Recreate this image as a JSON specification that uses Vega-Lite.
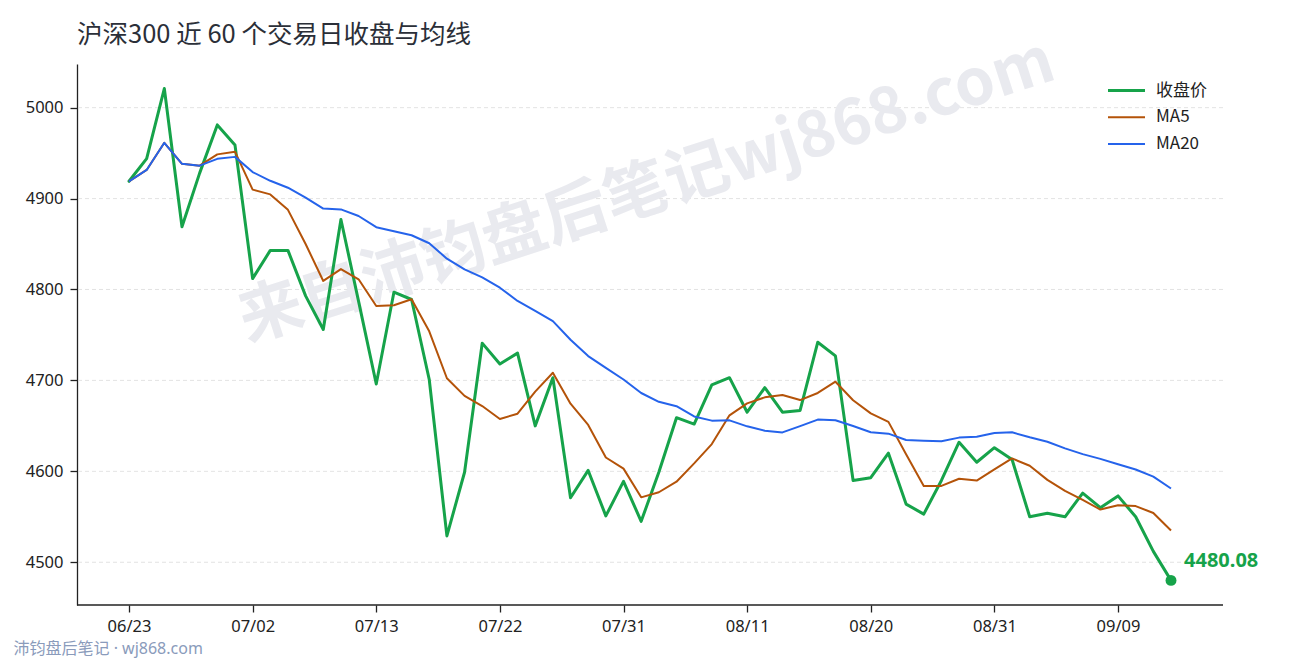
{
  "$schema": "https://vega.github.io/schema/vega-lite/v6.json",
  "width": 1146,
  "height": 541,
  "autosize": {"type": "none"},
  "padding": {"left": 77, "top": 64, "right": 67, "bottom": 55},
  "background": "white",
  "config": {"font": "Noto Sans, Noto Sans CJK SC", "view": {"stroke": null}},
  "title": {
    "text": "沪深300 近 60 个交易日收盘与均线",
    "anchor": "start",
    "frame": "group",
    "font": "Noto Sans CJK SC",
    "fontSize": 25.5,
    "fontWeight": "normal",
    "color": "#2b2f38",
    "offset": -19
  },
  "layer": [
    {
      "data": {"values": [{"edge": "grid"}]},
      "layer": [
        {"mark": {"type": "rule", "color": "#dcdcdc", "strokeWidth": 0.8, "strokeDash": [4, 3]}, "encoding": {"y": {"datum": 4500, "type": "quantitative"}}},
        {"mark": {"type": "rule", "color": "#dcdcdc", "strokeWidth": 0.8, "strokeDash": [4, 3]}, "encoding": {"y": {"datum": 4600, "type": "quantitative"}}},
        {"mark": {"type": "rule", "color": "#dcdcdc", "strokeWidth": 0.8, "strokeDash": [4, 3]}, "encoding": {"y": {"datum": 4700, "type": "quantitative"}}},
        {"mark": {"type": "rule", "color": "#dcdcdc", "strokeWidth": 0.8, "strokeDash": [4, 3]}, "encoding": {"y": {"datum": 4800, "type": "quantitative"}}},
        {"mark": {"type": "rule", "color": "#dcdcdc", "strokeWidth": 0.8, "strokeDash": [4, 3]}, "encoding": {"y": {"datum": 4900, "type": "quantitative"}}},
        {"mark": {"type": "rule", "color": "#dcdcdc", "strokeWidth": 0.8, "strokeDash": [4, 3]}, "encoding": {"y": {"datum": 5000, "type": "quantitative"}}}
      ]
    },
    {
      "data": {
        "values": [
          {"date": "06/23", "close": 4919, "ma5": 4919, "ma20": 4919},
          {"date": "06/24", "close": 4944, "ma5": 4931.5, "ma20": 4931.5},
          {"date": "06/25", "close": 5021, "ma5": 4961.33, "ma20": 4961.33},
          {"date": "06/26", "close": 4869, "ma5": 4938.25, "ma20": 4938.25},
          {"date": "06/29", "close": 4928, "ma5": 4936.2, "ma20": 4936.2},
          {"date": "06/30", "close": 4981, "ma5": 4948.6, "ma20": 4943.67},
          {"date": "07/01", "close": 4959, "ma5": 4951.6, "ma20": 4945.86},
          {"date": "07/02", "close": 4812, "ma5": 4909.8, "ma20": 4929.13},
          {"date": "07/03", "close": 4843, "ma5": 4904.6, "ma20": 4919.56},
          {"date": "07/06", "close": 4843, "ma5": 4887.6, "ma20": 4911.9},
          {"date": "07/07", "close": 4793, "ma5": 4850, "ma20": 4901.09},
          {"date": "07/08", "close": 4756, "ma5": 4809.4, "ma20": 4889},
          {"date": "07/09", "close": 4877, "ma5": 4822.4, "ma20": 4888.08},
          {"date": "07/10", "close": 4787, "ma5": 4811.2, "ma20": 4880.86},
          {"date": "07/13", "close": 4696, "ma5": 4781.8, "ma20": 4868.53},
          {"date": "07/14", "close": 4797, "ma5": 4782.6, "ma20": 4864.06},
          {"date": "07/15", "close": 4789, "ma5": 4789.2, "ma20": 4859.65},
          {"date": "07/16", "close": 4701, "ma5": 4754, "ma20": 4850.83},
          {"date": "07/17", "close": 4529, "ma5": 4702.4, "ma20": 4833.89},
          {"date": "07/20", "close": 4599, "ma5": 4683, "ma20": 4822.15},
          {"date": "07/21", "close": 4741, "ma5": 4671.8, "ma20": 4813.25},
          {"date": "07/22", "close": 4718, "ma5": 4657.6, "ma20": 4801.95},
          {"date": "07/23", "close": 4730, "ma5": 4663.4, "ma20": 4787.4},
          {"date": "07/24", "close": 4650, "ma5": 4687.6, "ma20": 4776.45},
          {"date": "07/27", "close": 4703, "ma5": 4708.4, "ma20": 4765.2},
          {"date": "07/28", "close": 4571, "ma5": 4674.4, "ma20": 4744.7},
          {"date": "07/29", "close": 4601, "ma5": 4651, "ma20": 4726.8},
          {"date": "07/30", "close": 4551, "ma5": 4615.2, "ma20": 4713.75},
          {"date": "07/31", "close": 4589, "ma5": 4603, "ma20": 4701.05},
          {"date": "08/03", "close": 4545, "ma5": 4571.4, "ma20": 4686.15},
          {"date": "08/04", "close": 4599, "ma5": 4577, "ma20": 4676.45},
          {"date": "08/05", "close": 4659, "ma5": 4588.6, "ma20": 4671.6},
          {"date": "08/06", "close": 4652, "ma5": 4608.8, "ma20": 4660.35},
          {"date": "08/07", "close": 4695, "ma5": 4630, "ma20": 4655.75},
          {"date": "08/10", "close": 4703, "ma5": 4661.6, "ma20": 4656.1},
          {"date": "08/11", "close": 4665, "ma5": 4674.8, "ma20": 4649.5},
          {"date": "08/12", "close": 4692, "ma5": 4681.4, "ma20": 4644.65},
          {"date": "08/13", "close": 4665, "ma5": 4684, "ma20": 4642.85},
          {"date": "08/14", "close": 4667, "ma5": 4678.4, "ma20": 4649.75},
          {"date": "08/17", "close": 4742, "ma5": 4686.2, "ma20": 4656.9},
          {"date": "08/18", "close": 4727, "ma5": 4698.6, "ma20": 4656.2},
          {"date": "08/19", "close": 4590, "ma5": 4678.2, "ma20": 4649.8},
          {"date": "08/20", "close": 4593, "ma5": 4663.8, "ma20": 4642.95},
          {"date": "08/21", "close": 4620, "ma5": 4654.4, "ma20": 4641.45},
          {"date": "08/24", "close": 4564, "ma5": 4618.8, "ma20": 4634.5},
          {"date": "08/25", "close": 4553, "ma5": 4584, "ma20": 4633.6},
          {"date": "08/26", "close": 4590, "ma5": 4584, "ma20": 4633.05},
          {"date": "08/27", "close": 4632, "ma5": 4591.8, "ma20": 4637.1},
          {"date": "08/28", "close": 4610, "ma5": 4589.8, "ma20": 4638.15},
          {"date": "08/31", "close": 4626, "ma5": 4602.2, "ma20": 4642.2},
          {"date": "09/01", "close": 4613, "ma5": 4614.2, "ma20": 4642.9},
          {"date": "09/02", "close": 4550, "ma5": 4606.2, "ma20": 4637.45},
          {"date": "09/03", "close": 4554, "ma5": 4590.6, "ma20": 4632.55},
          {"date": "09/04", "close": 4550, "ma5": 4578.6, "ma20": 4625.3},
          {"date": "09/07", "close": 4576, "ma5": 4568.6, "ma20": 4618.95},
          {"date": "09/08", "close": 4560, "ma5": 4558, "ma20": 4613.7},
          {"date": "09/09", "close": 4573, "ma5": 4562.6, "ma20": 4607.75},
          {"date": "09/10", "close": 4550, "ma5": 4561.8, "ma20": 4602},
          {"date": "09/11", "close": 4512, "ma5": 4554.2, "ma20": 4594.25},
          {"date": "09/14", "close": 4480.08, "ma5": 4535.02, "ma20": 4581.15}
        ]
      },
      "transform": [{"fold": ["close", "ma5", "ma20"], "as": ["series", "value"]}],
      "encoding": {
        "x": {
          "field": "date",
          "type": "ordinal",
          "scale": {"type": "point", "padding": 0, "range": [52, 1094]},
          "axis": {
            "values": ["06/23", "07/02", "07/13", "07/22", "07/31", "08/11", "08/20", "08/31", "09/09"],
            "labelAngle": 0,
            "labelFontSize": 16.5,
            "labelColor": "#222",
            "labelPadding": 6,
            "tickSize": 7,
            "tickWidth": 1.3,
            "tickColor": "#222",
            "domain": false,
            "grid": false,
            "title": "沛钧盘后笔记 · wj868.com",
            "titleX": -64,
            "titleY": 48,
            "titleAlign": "left",
            "titleBaseline": "alphabetic",
            "titleFont": "Noto Sans, Noto Sans CJK SC",
            "titleFontSize": 16,
            "titleFontWeight": "normal",
            "titleColor": "#8a9bbb"
          }
        },
        "y": {
          "field": "value",
          "type": "quantitative",
          "scale": {"domain": [4453, 5048], "zero": false, "nice": false},
          "axis": {
            "values": [4500, 4600, 4700, 4800, 4900, 5000],
            "format": "d",
            "title": null,
            "grid": false,
            "labelFontSize": 16.5,
            "labelColor": "#222",
            "labelPadding": 7,
            "tickSize": 7,
            "tickWidth": 1.3,
            "tickColor": "#222",
            "domainColor": "#222",
            "domainWidth": 1.3
          }
        }
      },
      "layer": [
        {
          "transform": [{"filter": "datum.series == 'close' && datum.date == '08/03'"}],
          "mark": {
            "type": "text",
            "text": "来自沛钧盘后笔记wj868.com",
            "angle": -18,
            "font": "Noto Sans CJK SC",
            "fontSize": 64,
            "fontWeight": "bold",
            "color": "#e9eaef",
            "align": "center",
            "baseline": "middle",
            "dx": 6
          },
          "encoding": {
            "y": {"datum": 4905, "type": "quantitative"}
          }
        },
        {
          "transform": [{"filter": "datum.series == 'close'"}],
          "mark": {"type": "line", "strokeWidth": 3, "strokeJoin": "round", "strokeCap": "round"},
          "encoding": {
            "color": {
              "field": "series",
              "type": "nominal",
              "scale": {"domain": ["close", "ma5", "ma20"], "range": ["#16a34a", "#b45309", "#2563eb"]},
              "legend": {
                "orient": "none",
                "legendX": 1041,
                "legendY": 18,
                "title": null,
                "padding": 0,
                "symbolType": "M-2,0H2",
                "symbolSize": 342,
                "symbolStrokeWidth": 2,
                "labelFont": "Noto Sans CJK SC",
                "labelFontSize": 17,
                "labelColor": "#222",
                "labelOffset": 21,
                "rowPadding": 8.8,
                "labelExpr": "datum.label == 'close' ? '收盘价' : datum.label == 'ma5' ? 'MA5' : 'MA20'",
                "encode": {"symbols": {"update": {"strokeWidth": {"signal": "datum.value == 'close' ? 3 : 2"}}}}
              }
            }
          }
        },
        {
          "transform": [{"filter": "datum.series == 'ma5'"}],
          "mark": {"type": "line", "strokeWidth": 2, "strokeJoin": "round"},
          "encoding": {"color": {"field": "series", "type": "nominal"}}
        },
        {
          "transform": [{"filter": "datum.series == 'ma20'"}],
          "mark": {"type": "line", "strokeWidth": 2, "strokeJoin": "round"},
          "encoding": {"color": {"field": "series", "type": "nominal"}}
        },
        {
          "transform": [{"filter": "datum.series == 'close' && datum.date == '09/14'"}],
          "mark": {"type": "point", "filled": true, "size": 120, "color": "#16a34a", "opacity": 1},
          "encoding": {}
        },
        {
          "transform": [{"filter": "datum.series == 'close' && datum.date == '09/14'"}],
          "mark": {
            "type": "text",
            "align": "left",
            "baseline": "middle",
            "dx": 13,
            "dy": -19,
            "fontSize": 20,
            "fontWeight": "bold",
            "color": "#16a34a"
          },
          "encoding": {"text": {"field": "value", "format": ".2f"}}
        }
      ]
    },
    {
      "data": {"values": [{"edge": "bottom"}]},
      "mark": {"type": "rule", "color": "#222", "strokeWidth": 1.3},
      "encoding": {"y": {"datum": 4453, "type": "quantitative"}}
    }
  ]
}
